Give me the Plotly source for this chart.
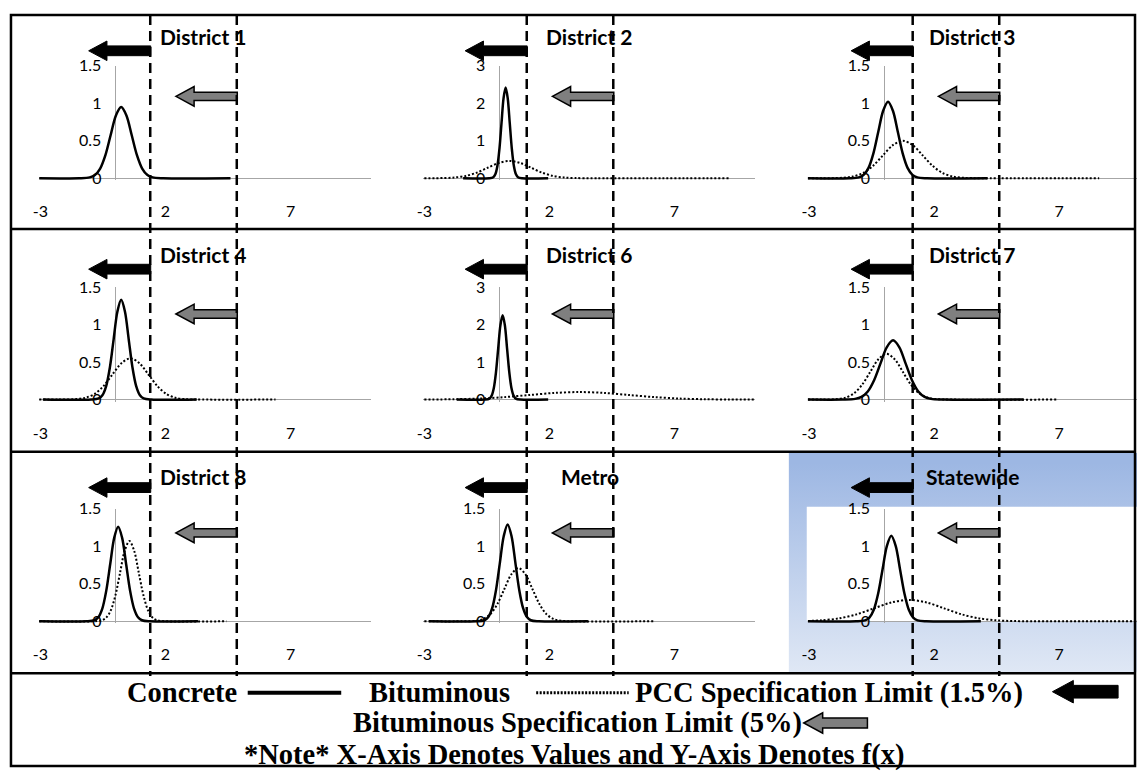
import plotly.graph_objects as go

W, H = 1137, 775

# ---------------- data ----------------
panel_titles = ["District 1", "District 2", "District 3",
                "District 4", "District 6", "District 7",
                "District 8", "Metro", "Statewide"]
y_max = [1.5, 3, 1.5, 1.5, 3, 1.5, 1.5, 1.5, 1.5]
y_ticks_small = [0, 0.5, 1, 1.5]
y_ticks_large = [0, 1, 2, 3]
x_ticks = [-3, 2, 7]

# Concrete / Bituminous f(x) curves
d1_conc_x = [-3.05, -1.45, -1.03, -0.82, -0.61, -0.40, -0.19, 0.02, 0.23, 0.44, 0.65, 0.86, 1.07, 1.28, 1.49, 1.91, 4.6]
d1_conc_y = [0, 0, 0.011, 0.042, 0.129, 0.308, 0.576, 0.838, 0.95, 0.838, 0.576, 0.308, 0.129, 0.042, 0.011, 0, 0]

d2_conc_x = [-1.45, -0.41, -0.245, -0.1625, -0.08, 0.0025, 0.085, 0.1675, 0.25, 0.3325, 0.415, 0.4975, 0.58, 0.6625, 0.745, 0.91, 1.95]
d2_conc_y = [0, 0, 0.027, 0.106, 0.327, 0.786, 1.468, 2.136, 2.42, 2.136, 1.468, 0.786, 0.327, 0.106, 0.027, 0, 0]
d2_bit_x = [-3.0, -2.21, -1.775, -1.34, -0.905, -0.47, -0.035, 0.4, 0.835, 1.27, 1.705, 2.14, 2.575, 3.01, 3.88, 9.2]
d2_bit_y = [0, 0.005, 0.020, 0.062, 0.149, 0.279, 0.406, 0.46, 0.406, 0.279, 0.149, 0.062, 0.020, 0.005, 0, 0]

d3_conc_x = [-3.05, -1.40, -1.01, -0.815, -0.62, -0.425, -0.23, -0.035, 0.16, 0.355, 0.55, 0.745, 0.94, 1.135, 1.33, 1.72, 4.13]
d3_conc_y = [0, 0, 0.011, 0.045, 0.138, 0.331, 0.619, 0.900, 1.02, 0.900, 0.619, 0.331, 0.138, 0.045, 0.011, 0, 0]
d3_bit_x = [-3.05, -2.45, -1.65, -1.25, -0.85, -0.45, -0.05, 0.35, 0.75, 1.15, 1.55, 1.95, 2.35, 2.75, 3.15, 3.95, 8.6]
d3_bit_y = [0, 0, 0.006, 0.022, 0.068, 0.162, 0.303, 0.441, 0.50, 0.441, 0.303, 0.162, 0.068, 0.022, 0.006, 0, 0]

d4_conc_x = [-2.9, -0.97, -0.67, -0.52, -0.37, -0.22, -0.07, 0.08, 0.23, 0.38, 0.53, 0.68, 0.83, 0.98, 1.13, 1.43, 3.25]
d4_conc_y = [0, 0, 0.015, 0.058, 0.180, 0.432, 0.807, 1.174, 1.33, 1.174, 0.807, 0.432, 0.180, 0.058, 0.015, 0, 0]
d4_bit_x = [-3.05, -2.28, -1.56, -1.2, -0.84, -0.48, -0.12, 0.24, 0.6, 0.96, 1.32, 1.68, 2.04, 2.4, 2.76, 3.48, 6.4]
d4_bit_y = [0, 0, 0.006, 0.024, 0.074, 0.179, 0.334, 0.485, 0.55, 0.485, 0.334, 0.179, 0.074, 0.024, 0.006, 0, 0]

d6_conc_x = [-1.7, -0.578, -0.401, -0.3125, -0.224, -0.1355, -0.047, 0.0415, 0.13, 0.2185, 0.307, 0.3955, 0.484, 0.5725, 0.661, 0.838, 1.95]
d6_conc_y = [0, 0, 0.025, 0.099, 0.304, 0.731, 1.365, 1.986, 2.25, 1.986, 1.365, 0.731, 0.304, 0.099, 0.025, 0, 0]
d6_bit_x = [-3.0, -1.8, -0.8, 0.2, 1.2, 2.2, 3.2, 4.2, 5.2, 6.2, 7.2, 8.2, 9.2, 10.2]
d6_bit_y = [0.0017, 0.0088, 0.027, 0.065, 0.121, 0.1765, 0.20, 0.1765, 0.121, 0.065, 0.027, 0.0088, 0.0022, 0.0004]

d7_conc_x = [-3.05, -1.66, -1.155, -0.9025, -0.65, -0.3975, -0.145, 0.1075, 0.36, 0.6125, 0.865, 1.1175, 1.37, 1.6225, 1.875, 2.38, 5.58]
d7_conc_y = [0, 0, 0.009, 0.035, 0.107, 0.257, 0.479, 0.697, 0.79, 0.697, 0.479, 0.257, 0.107, 0.035, 0.009, 0, 0]
d7_bit_x = [-3.05, -2.5, -1.85, -1.525, -1.2, -0.875, -0.55, -0.225, 0.1, 0.425, 0.75, 1.075, 1.4, 1.725, 2.05, 2.7, 6.9]
d7_bit_y = [0, 0, 0.007, 0.027, 0.083, 0.198, 0.370, 0.538, 0.61, 0.538, 0.370, 0.198, 0.083, 0.027, 0.007, 0, 0]

d8_conc_x = [-3.05, -1.158, -0.841, -0.6825, -0.524, -0.3655, -0.207, -0.0485, 0.11, 0.2685, 0.427, 0.5855, 0.744, 0.9025, 1.061, 1.378, 3.3]
d8_conc_y = [0, 0, 0.014, 0.055, 0.170, 0.409, 0.764, 1.112, 1.26, 1.112, 0.764, 0.409, 0.170, 0.055, 0.014, 0, 0]
d8_bit_x = [-3.05, -0.932, -0.559, -0.3725, -0.186, 0.0005, 0.187, 0.3735, 0.56, 0.7465, 0.933, 1.1195, 1.306, 1.4925, 1.679, 2.052, 4.44]
d8_bit_y = [0, 0, 0.012, 0.047, 0.145, 0.347, 0.649, 0.944, 1.07, 0.944, 0.649, 0.347, 0.145, 0.047, 0.012, 0, 0]

metro_conc_x = [-2.82, -0.906, -0.597, -0.4425, -0.288, -0.1335, 0.021, 0.1755, 0.33, 0.4845, 0.639, 0.7935, 0.948, 1.1025, 1.257, 1.566, 3.54]
metro_conc_y = [0, 0, 0.014, 0.057, 0.175, 0.419, 0.782, 1.138, 1.29, 1.138, 0.782, 0.419, 0.175, 0.057, 0.014, 0, 0]
metro_bit_x = [-3.0, -1.48, -0.92, -0.64, -0.36, -0.08, 0.2, 0.48, 0.76, 1.04, 1.32, 1.6, 1.88, 2.16, 2.44, 3.0, 6.2]
metro_bit_y = [0, 0, 0.008, 0.031, 0.096, 0.231, 0.431, 0.627, 0.71, 0.627, 0.431, 0.231, 0.096, 0.031, 0.008, 0, 0]

state_conc_x = [-3.05, -1.11, -0.76, -0.585, -0.41, -0.235, -0.06, 0.115, 0.29, 0.465, 0.64, 0.815, 0.99, 1.165, 1.34, 1.69, 3.87]
state_conc_y = [0, 0, 0.013, 0.050, 0.154, 0.370, 0.691, 1.006, 1.14, 1.006, 0.691, 0.370, 0.154, 0.050, 0.013, 0, 0]
state_bit_x = [-3.05, -2.5, -1.8, -1.1, -0.4, 0.3, 1.0, 1.7, 2.4, 3.1, 3.8, 4.5, 5.2, 6.6, 10.1]
state_bit_y = [0.0044, 0.0125, 0.0386, 0.0925, 0.1729, 0.2515, 0.285, 0.2515, 0.1729, 0.0925, 0.0386, 0.0125, 0.0032, 0, 0]

conc_x = [d1_conc_x, d2_conc_x, d3_conc_x, d4_conc_x, d6_conc_x, d7_conc_x, d8_conc_x, metro_conc_x, state_conc_x]
conc_y = [d1_conc_y, d2_conc_y, d3_conc_y, d4_conc_y, d6_conc_y, d7_conc_y, d8_conc_y, metro_conc_y, state_conc_y]
bit_x = [None, d2_bit_x, d3_bit_x, d4_bit_x, d6_bit_x, d7_bit_x, d8_bit_x, metro_bit_x, state_bit_x]
bit_y = [None, d2_bit_y, d3_bit_y, d4_bit_y, d6_bit_y, d7_bit_y, d8_bit_y, metro_bit_y, state_bit_y]

legend_line1 = ["Concrete", "Bituminous", "PCC Specification Limit (1.5%)"]
legend_line2 = "Bituminous Specification Limit (5%)"
legend_line3 = "*Note* X-Axis Denotes Values and Y-Axis Denotes f(x)"

# ---------------- layout geometry (pixels) ----------------
col_x0 = [110, 496, 882.7]      # pixel of x = 0 in each column
row_y0 = [172, 398.3, 625]      # pixel of y = 0 in each row
PPX = 25.15                     # pixels per x unit
PLOT_H = 115
title_cx = [199, 587, 972]
title_cy = [27, 250, 477]
dash_x = [[145, 232], [523.5, 610.5], [911.5, 998.5]]
black_arrow_y = [41.7, 265, 488.3]
gray_arrow_y = [88.3, 310.8, 534.6]

AXIS_GRAY = "#A6A6A6"


def px(x):
    return x / W


def py(y):
    return 1 - y / H


fig = go.Figure()
layout = {}

# background subplot in pixel coordinates (for the Statewide chart-area fill)
layout["xaxis"] = dict(domain=[0, 1], range=[0, W], visible=False, fixedrange=True)
layout["yaxis"] = dict(domain=[0, 1], range=[H, 0], visible=False, fixedrange=True)
fig.add_trace(go.Scatter(
    x=[787, 1137, 1137, 787, 787], y=[453, 453, 677, 677, 453],
    mode="lines", line=dict(width=0), fill="toself",
    fillgradient=dict(type="vertical", start=453, stop=677,
                      colorscale=[[0, "#9DB7E3"], [1, "#E4EBF6"]]),
    hoverinfo="skip", showlegend=False, xaxis="x", yaxis="y"))
fig.add_trace(go.Scatter(
    x=[805, 1137, 1137, 805, 805], y=[508, 508, 625, 625, 508],
    mode="lines", line=dict(width=0), fill="toself", fillcolor="white",
    hoverinfo="skip", showlegend=False, xaxis="x", yaxis="y"))

annotations = []
shapes = []

for i, title in enumerate(panel_titles):
    c, r = i % 3, i // 3
    k = i + 2
    x0 = col_x0[c]
    L = x0 - 3.05 * PPX
    R = min(x0 + 10.2 * PPX, W)
    yb = row_y0[r]
    yt = yb - PLOT_H
    ym = y_max[i]
    e = ym * 2.0 / PLOT_H
    layout[f"xaxis{k}"] = dict(
        domain=[px(L), px(R)], range=[(L - x0) / PPX, (R - x0) / PPX],
        anchor=f"y{k}", showgrid=False, showline=False, ticks="",
        tickvals=x_ticks, ticktext=[str(v) for v in x_ticks],
        zeroline=True, zerolinecolor=AXIS_GRAY, zerolinewidth=1,
        tickfont=dict(family="Lato", size=16, color="black"),
        ticklabelstandoff=20, fixedrange=True)
    yt_vals = y_ticks_large if ym == 3 else y_ticks_small
    layout[f"yaxis{k}"] = dict(
        domain=[py(yb + 2), py(yt)], range=[-e, ym],
        anchor="free", position=px(x0), showgrid=False, showline=False,
        ticks="", tickvals=yt_vals, ticktext=[f"{v:g}" for v in yt_vals],
        zeroline=True, zerolinecolor=AXIS_GRAY, zerolinewidth=1,
        tickfont=dict(family="Lato", size=16, color="black"),
        ticklabelstandoff=14, fixedrange=True)
    if bit_x[i] is not None:
        fig.add_trace(go.Scatter(
            x=bit_x[i], y=bit_y[i], mode="lines",
            line=dict(color="black", width=2, dash="2px,2px", shape="spline", smoothing=0.9),
            hoverinfo="skip", showlegend=False, xaxis=f"x{k}", yaxis=f"y{k}"))
    fig.add_trace(go.Scatter(
        x=conc_x[i], y=conc_y[i], mode="lines",
        line=dict(color="black", width=2.5, shape="spline", smoothing=0.9),
        hoverinfo="skip", showlegend=False, xaxis=f"x{k}", yaxis=f"y{k}"))
    annotations.append(dict(
        text=f"<b>{title}</b>", x=px(title_cx[c]), y=py(title_cy[r]),
        xref="paper", yref="paper", xanchor="center", yanchor="middle",
        showarrow=False, font=dict(family="Lato", size=21, color="black")))


def left_arrow(R, yc, length, head_len, head_half, body_half):
    tip = R - length
    hb = tip + head_len
    pts = [(tip, yc), (hb, yc - head_half), (hb, yc - body_half), (R, yc - body_half),
           (R, yc + body_half), (hb, yc + body_half), (hb, yc + head_half)]
    return "M " + " L ".join(f"{px(a):.5f},{py(b):.5f}" for a, b in pts) + " Z"


# arrows in every panel
for r in range(3):
    for c in range(3):
        shapes.append(dict(type="path", xref="paper", yref="paper",
                           path=left_arrow(dash_x[c][0] + 0.5, black_arrow_y[r], 62.4, 18.4, 10, 5),
                           fillcolor="black", line=dict(color="black", width=1)))
        shapes.append(dict(type="path", xref="paper", yref="paper",
                           path=left_arrow(dash_x[c][1] + 0.5, gray_arrow_y[r], 61.7, 18.3, 10, 4.3),
                           fillcolor="#7F7F7F", line=dict(color="black", width=1.5)))

# dashed specification-limit lines
for c in range(3):
    for xv in dash_x[c]:
        shapes.append(dict(type="line", xref="paper", yref="paper",
                           x0=px(xv), x1=px(xv), y0=py(5), y1=py(681),
                           line=dict(color="black", width=2.5, dash="10px,6px")))

# frame and row separators
for yv in [224, 451.7, 678]:
    shapes.append(dict(type="line", xref="paper", yref="paper",
                       x0=px(5), x1=px(1135), y0=py(yv), y1=py(yv),
                       line=dict(color="black", width=2.5)))
shapes.append(dict(type="rect", xref="paper", yref="paper",
                   x0=px(5), x1=px(1135), y0=py(773), y1=py(5),
                   line=dict(color="black", width=2.5)))

# ---------------- bottom legend ----------------
LEG_FONT = dict(family="Liberation Serif", size=28.5, color="black")
leg_y1, leg_y2, leg_y3 = 698, 729.5, 762


def leg_text(t, x, y):
    annotations.append(dict(text=f"<b>{t}</b>", x=px(x), y=py(y), xref="paper", yref="paper",
                            xanchor="left", yanchor="middle", showarrow=False, font=LEG_FONT))


leg_text(legend_line1[0], 120, leg_y1)
shapes.append(dict(type="line", xref="paper", yref="paper", x0=px(243), x1=px(337),
                   y0=py(698), y1=py(698), line=dict(color="black", width=4)))
leg_text(legend_line1[1], 363, leg_y1)
shapes.append(dict(type="line", xref="paper", yref="paper", x0=px(533), x1=px(626),
                   y0=py(698), y1=py(698), line=dict(color="black", width=3, dash="2px,1.5px")))
leg_text(legend_line1[2], 630, leg_y1)
shapes.append(dict(type="path", xref="paper", yref="paper",
                   path=left_arrow(1118, 697, 66, 21, 11.5, 6.5),
                   fillcolor="black", line=dict(color="black", width=1)))
leg_text(legend_line2, 347, leg_y2)
shapes.append(dict(type="path", xref="paper", yref="paper",
                   path=left_arrow(866, 729, 64, 19, 10.5, 5),
                   fillcolor="#7F7F7F", line=dict(color="black", width=1.5)))
leg_text(legend_line3, 237, leg_y3)

fig.update_layout(
    width=W, height=H, margin=dict(l=0, r=0, t=0, b=0),
    paper_bgcolor="white", plot_bgcolor="rgba(0,0,0,0)",
    showlegend=False, annotations=annotations, shapes=shapes, **layout)

fig.write_html("out.html", config={"displayModeBar": False})
